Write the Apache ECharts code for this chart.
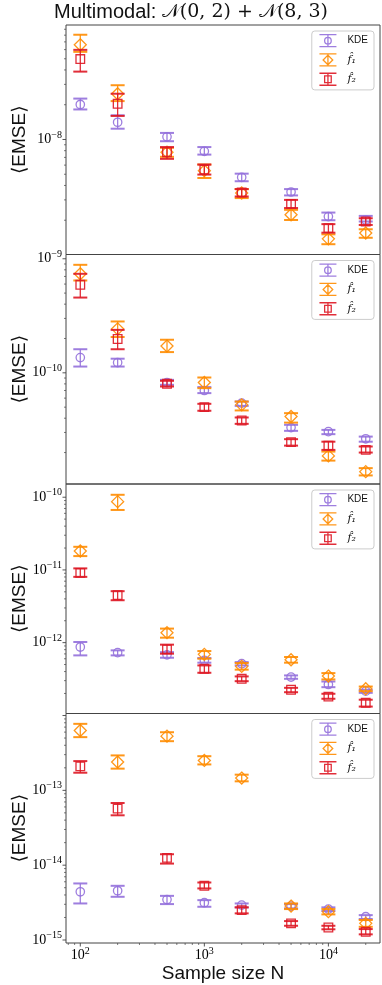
<!DOCTYPE html>
<html><head><meta charset="utf-8">
<script src="https://cdn.jsdelivr.net/npm/echarts@6/dist/echarts.min.js"></script>
<style>html,body{margin:0;padding:0;background:#fff}#c{width:382px;height:985px}</style>
</head><body><div id="c"></div>
<script>
// ---------------- data ----------------
const N = [100, 200, 500, 1000, 2000, 5000, 10000, 20000];
const seriesNames = ['KDE', 'f\u0302\u2081', 'f\u0302\u2082'];

// panel 1
const kde1   = [2.01e-8, 1.41e-8, 1.055e-8, 7.9e-9, 4.7e-9, 3.51e-9, 2.15e-9, 2.01e-9];
const kde1Lo = [1.82e-8, 1.24e-8, 9.66e-9, 7.4e-9, 4.35e-9, 3.28e-9, 2.0e-9, 1.95e-9];
const kde1Hi = [2.26e-8, 1.62e-8, 1.14e-8, 8.6e-9, 5.06e-9, 3.72e-9, 2.33e-9, 2.18e-9];
const fa1    = [6.6e-8, 2.49e-8, 7.76e-9, 5.37e-9, 3.44e-9, 2.23e-9, 1.38e-9, 1.55e-9];
const fa1Lo  = [5.74e-8, 2.15e-8, 7.08e-9, 4.64e-9, 3.11e-9, 2.01e-9, 1.24e-9, 1.41e-9];
const fa1Hi  = [8.07e-8, 2.95e-8, 8.47e-9, 6.07e-9, 3.72e-9, 2.46e-9, 1.51e-9, 1.67e-9];
const fb1    = [4.97e-8, 2.04e-8, 7.76e-9, 5.49e-9, 3.48e-9, 2.77e-9, 1.71e-9, 1.95e-9];
const fb1Lo  = [3.87e-8, 1.6e-8, 6.8e-9, 4.97e-9, 3.21e-9, 2.55e-9, 1.56e-9, 1.82e-9];
const fb1Hi  = [5.97e-8, 2.49e-8, 8.6e-9, 6.07e-9, 3.72e-9, 3.0e-9, 1.85e-9, 2.08e-9];
// panel 2
const kde2   = [1.36e-10, 1.23e-10, 8.22e-11, 7.0e-11, 5.42e-11, 3.31e-11, 3.05e-11, 2.64e-11];
const kde2Lo = [1.135e-10, 1.135e-10, 7.85e-11, 6.64e-11, 5.13e-11, 3.1e-11, 2.9e-11, 2.49e-11];
const kde2Hi = [1.61e-10, 1.33e-10, 8.68e-11, 7.5e-11, 5.6e-11, 3.5e-11, 3.16e-11, 2.76e-11];
const fa2    = [7.38e-10, 2.43e-10, 1.72e-10, 8.22e-11, 5.24e-11, 4.14e-11, 1.87e-11, 1.36e-11];
const fa2Lo  = [6.45e-10, 2.06e-10, 1.52e-10, 7.34e-11, 4.68e-11, 3.66e-11, 1.70e-11, 1.26e-11];
const fa2Hi  = [8.85e-10, 2.82e-10, 1.95e-10, 9.1e-11, 5.6e-11, 4.43e-11, 2.04e-11, 1.46e-11];
const fb2    = [5.91e-10, 1.98e-10, 8.01e-11, 5.0e-11, 3.82e-11, 2.47e-11, 2.30e-11, 2.11e-11];
const fb2Lo  = [4.57e-10, 1.61e-10, 7.59e-11, 4.65e-11, 3.57e-11, 2.30e-11, 2.11e-11, 2.0e-11];
const fb2Hi  = [7.38e-10, 2.38e-10, 8.51e-11, 5.35e-11, 4.06e-11, 2.62e-11, 2.49e-11, 2.26e-11];
// panel 3
const kde3   = [8.7e-13, 7.28e-13, 6.8e-13, 5.7e-13, 5.13e-13, 3.36e-13, 2.66e-13, 2.15e-13];
const kde3Lo = [6.68e-13, 6.68e-13, 6.2e-13, 5.3e-13, 4.86e-13, 3.18e-13, 2.44e-13, 2.04e-13];
const kde3Hi = [1.02e-12, 7.83e-13, 7.4e-13, 6.14e-13, 5.4e-13, 3.54e-13, 2.92e-13, 2.25e-13];
const fa3    = [1.82e-11, 8.69e-11, 1.37e-12, 6.9e-13, 4.71e-13, 5.82e-13, 3.47e-13, 2.32e-13];
const fa3Lo  = [1.55e-11, 6.68e-11, 1.17e-12, 6.01e-13, 4.25e-13, 5.3e-13, 3.12e-13, 2.15e-13];
const fa3Hi  = [2.08e-11, 1.08e-10, 1.56e-12, 7.66e-13, 5.24e-13, 6.34e-13, 3.81e-13, 2.49e-13];
const fb3    = [9.12e-12, 4.49e-12, 8.09e-13, 4.37e-13, 3.18e-13, 2.25e-13, 1.81e-13, 1.49e-13];
const fb3Lo  = [8.03e-12, 3.83e-12, 7.05e-13, 3.85e-13, 2.95e-13, 2.08e-13, 1.69e-13, 1.32e-13];
const fb3Hi  = [1.05e-11, 5.1e-12, 9.38e-13, 4.86e-13, 3.43e-13, 2.39e-13, 1.98e-13, 1.64e-13];
// panel 4
const kde4   = [4.41e-15, 4.55e-15, 3.47e-15, 3.15e-15, 2.93e-15, 2.84e-15, 2.59e-15, 2.05e-15];
const kde4Lo = [3.08e-15, 3.78e-15, 3.02e-15, 2.78e-15, 2.73e-15, 2.65e-15, 2.44e-15, 1.91e-15];
const kde4Hi = [5.7e-15, 5.3e-15, 3.89e-15, 3.41e-15, 3.08e-15, 3.02e-15, 2.73e-15, 2.15e-15];
const fa4    = [6.31e-13, 2.39e-13, 5.3e-13, 2.51e-13, 1.46e-13, 2.84e-15, 2.39e-15, 1.67e-15];
const fa4Lo  = [5.14e-13, 1.95e-13, 4.54e-13, 2.22e-13, 1.32e-13, 2.59e-15, 2.2e-15, 1.5e-15];
const fa4Hi  = [7.74e-13, 2.93e-13, 5.98e-13, 2.86e-13, 1.62e-13, 3.08e-15, 2.59e-15, 1.85e-15];
const fb4    = [2.09e-13, 5.7e-14, 1.25e-14, 5.3e-15, 2.51e-15, 1.67e-15, 1.47e-15, 1.29e-15];
const fb4Lo  = [1.72e-13, 4.64e-14, 1.05e-14, 4.89e-15, 2.27e-15, 1.55e-15, 1.39e-15, 1.19e-15];
const fb4Hi  = [2.46e-13, 6.78e-14, 1.4e-14, 5.87e-15, 2.73e-15, 1.79e-15, 1.55e-15, 1.4e-15];

// axes
const xRange = [76.7, 26060];
const xTickExp = [2, 3, 4];
const yMin = [1.01e-9, 1.06e-11, 1.06e-13, 9.12e-16];
const yMax = [9.8e-8, 1.09e-9, 1.52e-10, 1.064e-12];
const yTickExp = [[-9, -8], [-10, -9], [-12, -11, -10], [-15, -14, -13]];

const panels = [
  [[kde1, kde1Lo, kde1Hi], [fa1, fa1Lo, fa1Hi], [fb1, fb1Lo, fb1Hi]],
  [[kde2, kde2Lo, kde2Hi], [fa2, fa2Lo, fa2Hi], [fb2, fb2Lo, fb2Hi]],
  [[kde3, kde3Lo, kde3Hi], [fa3, fa3Lo, fa3Hi], [fb3, fb3Lo, fb3Hi]],
  [[kde4, kde4Lo, kde4Hi], [fa4, fa4Lo, fa4Hi], [fb4, fb4Lo, fb4Hi]]
];

// ---------------- style ----------------
const colors = ['rgba(147,112,219,0.9)', 'rgba(255,140,0,0.9)', 'rgba(222,23,35,0.9)'];
const shapes = ['circle', 'diamond', 'square'];
const gridTop = [25, 254.5, 484, 713.5];
const gridH = 229.5;
const frame = '#444';
const serif = "'Liberation Serif', 'DejaVu Serif', serif";
const sans = "'Liberation Sans', 'DejaVu Sans', sans-serif";
const expRich = {
  b: { fontFamily: serif, fontSize: 14, color: '#222' },
  e: { fontFamily: serif, fontSize: 10, color: '#222', padding: [0, 0, 9, 0] }
};

function markerEl(shape, cx, cy, color) {
  const st = { fill: 'none', stroke: color, lineWidth: 1.3 };
  if (shape === 'circle') return { type: 'circle', shape: { cx, cy, r: 4.2 }, style: st };
  if (shape === 'diamond') return { type: 'polygon', shape: { points: [[cx, cy - 6], [cx + 6, cy], [cx, cy + 6], [cx - 6, cy]] }, style: st };
  return { type: 'rect', shape: { x: cx - 4.3, y: cy - 4.3, width: 8.6, height: 8.6 }, style: st };
}

function errSeries(gi, si) {
  const [v, lo, hi] = panels[gi][si];
  const color = colors[si], shape = shapes[si];
  return {
    type: 'custom', name: seriesNames[si], xAxisIndex: gi, yAxisIndex: gi,
    clip: false, z: 5 + si,
    itemStyle: { color },
    data: N.map((n, i) => [n, v[i], lo[i], hi[i]]),
    encode: { x: 0, y: 1 },
    renderItem(params, api) {
      const x = api.value(0);
      const p = api.coord([x, api.value(1)]);
      const pl = api.coord([x, api.value(2)]);
      const ph = api.coord([x, api.value(3)]);
      const cw = 7;
      return {
        type: 'group',
        children: [
          { type: 'line', shape: { x1: p[0], y1: ph[1], x2: p[0], y2: pl[1] }, style: { stroke: color, lineWidth: 1.3 } },
          { type: 'line', shape: { x1: p[0] - cw, y1: ph[1], x2: p[0] + cw, y2: ph[1] }, style: { stroke: color, lineWidth: 2 } },
          { type: 'line', shape: { x1: p[0] - cw, y1: pl[1], x2: p[0] + cw, y2: pl[1] }, style: { stroke: color, lineWidth: 2 } },
          markerEl(shape, p[0], p[1], color)
        ]
      };
    }
  };
}

function decoSeries(gi) {
  const bottom = gi === 3;
  return {
    type: 'custom', xAxisIndex: gi, yAxisIndex: gi, silent: true, clip: false, z: 2,
    data: [[xRange[0], yMin[gi]]], encode: { x: 0, y: 1 },
    renderItem(params, api) {
      const ch = [];
      const base = api.coord([xRange[0], yMin[gi]]);
      const x0 = base[0], yb = base[1];
      for (let e = -17; e <= -5; e++) {
        for (let k = 1; k <= 9; k++) {
          const t = k * Math.pow(10, e);
          if (t < yMin[gi] || t > yMax[gi]) continue;
          const y = api.coord([xRange[0], t])[1];
          const len = k === 1 ? 3.5 : 2;
          ch.push({ type: 'line', shape: { x1: x0 - len, y1: y, x2: x0, y2: y }, style: { stroke: frame, lineWidth: k === 1 ? 0.9 : 0.7 } });
        }
      }
      yTickExp[gi].forEach(e => {
        const t = Math.pow(10, e);
        if (t < yMin[gi] || t > yMax[gi]) return;
        const y = api.coord([xRange[0], t])[1];
        ch.push({ type: 'text', x: x0 - 4, y: y, style: { text: '{b|10}{e|\u2212' + (-e) + '}', rich: expRich, align: 'right', verticalAlign: 'middle' } });
      });
      if (bottom) {
        for (let e = 1; e <= 5; e++) {
          for (let k = 1; k <= 9; k++) {
            const t = k * Math.pow(10, e);
            if (t < xRange[0] || t > xRange[1]) continue;
            const x = api.coord([t, yMin[gi]])[0];
            const len = k === 1 ? 3.5 : 2;
            ch.push({ type: 'line', shape: { x1: x, y1: yb, x2: x, y2: yb + len }, style: { stroke: frame, lineWidth: k === 1 ? 0.9 : 0.7 } });
          }
        }
        xTickExp.forEach(e => {
          const x = api.coord([Math.pow(10, e), yMin[gi]])[0];
          ch.push({ type: 'text', x: x, y: yb + 3, style: { text: '{b|10}{e|' + e + '}', rich: expRich, align: 'center', verticalAlign: 'top' } });
        });
      }
      return { type: 'group', children: ch };
    }
  };
}

const icons = [
  'path://M0 0L17 0M0 12L17 12M8.5 0L8.5 12M11.8 6A3.3 3.3 0 1 1 5.2 6A3.3 3.3 0 1 1 11.8 6Z',
  'path://M0 0L17 0M0 12L17 12M8.5 0L8.5 12M8.5 1.2L13.3 6L8.5 10.8L3.7 6Z',
  'path://M0 0L17 0M0 12L17 12M8.5 0L8.5 12M5.2 2.7L11.8 2.7L11.8 9.3L5.2 9.3Z'
];

const grids = [], xAxes = [], yAxes = [], series = [], legends = [];
for (let gi = 0; gi < 4; gi++) {
  grids.push({ left: 66, width: 314, top: gridTop[gi], height: gridH, show: true, borderColor: frame, borderWidth: 1, backgroundColor: 'transparent' });
  xAxes.push({
    type: 'log', logBase: 10, gridIndex: gi, min: xRange[0], max: xRange[1],
    axisLine: { show: false }, axisTick: { show: false }, axisLabel: { show: false }, splitLine: { show: false },
    name: gi === 3 ? 'Sample size N' : '', nameLocation: 'middle', nameGap: 21,
    nameTextStyle: { fontFamily: sans, fontSize: 19, color: '#111' }
  });
  yAxes.push({
    type: 'log', logBase: 10, gridIndex: gi, min: yMin[gi], max: yMax[gi],
    axisLine: { show: false }, axisTick: { show: false }, axisLabel: { show: false }, splitLine: { show: false },
    name: '\u27E8EMSE\u27E9', nameLocation: 'middle', nameGap: 37, nameRotate: 90,
    nameTextStyle: { fontFamily: sans, fontSize: 19, color: '#111' }
  });
  series.push(decoSeries(gi));
  for (let si = 0; si < 3; si++) series.push(errSeries(gi, si));
  legends.push({
    orient: 'vertical', right: 8, top: gridTop[gi] + 6,
    itemWidth: 17, itemHeight: 12, itemGap: 6,
    padding: [3, 6, 4, 7],
    backgroundColor: 'rgba(255,255,255,0.8)', borderColor: '#cccccc', borderWidth: 1, borderRadius: 3,
    selectedMode: false,
    textStyle: { fontFamily: sans, fontSize: 10, color: '#111', padding: [0, 0, 0, 6],
      rich: { m: { fontFamily: "'DejaVu Serif', serif", fontStyle: 'italic', fontSize: 11, color: '#111' } } },
    formatter: name => name === 'KDE' ? name : '{m|' + name + '}',
    data: seriesNames.map((n, si) => ({
      name: n, icon: icons[si],
      itemStyle: { color: 'rgba(0,0,0,0)', borderColor: colors[si], borderWidth: 1.3 }
    }))
  });
}

const chart = echarts.init(document.getElementById('c'), null, { renderer: 'canvas' });
chart.setOption({
  animation: false,
  backgroundColor: '#fff',
  title: {
    text: '{s|Multimodal: }{m|\uD835\uDCA9(0, 2) + \uD835\uDCA9(8, 3)}',
    left: 'center', top: 2, padding: [0, 0, 0, 65],
    textStyle: { fontWeight: 'normal', rich: {
      s: { fontFamily: sans, fontSize: 20, fontWeight: 'normal', color: '#111' },
      m: { fontFamily: "'DejaVu Serif', serif", fontSize: 19, fontWeight: 'normal', color: '#111' }
    } }
  },
  legend: legends,
  grid: grids,
  xAxis: xAxes,
  yAxis: yAxes,
  series: series
});
</script>
</body></html>
